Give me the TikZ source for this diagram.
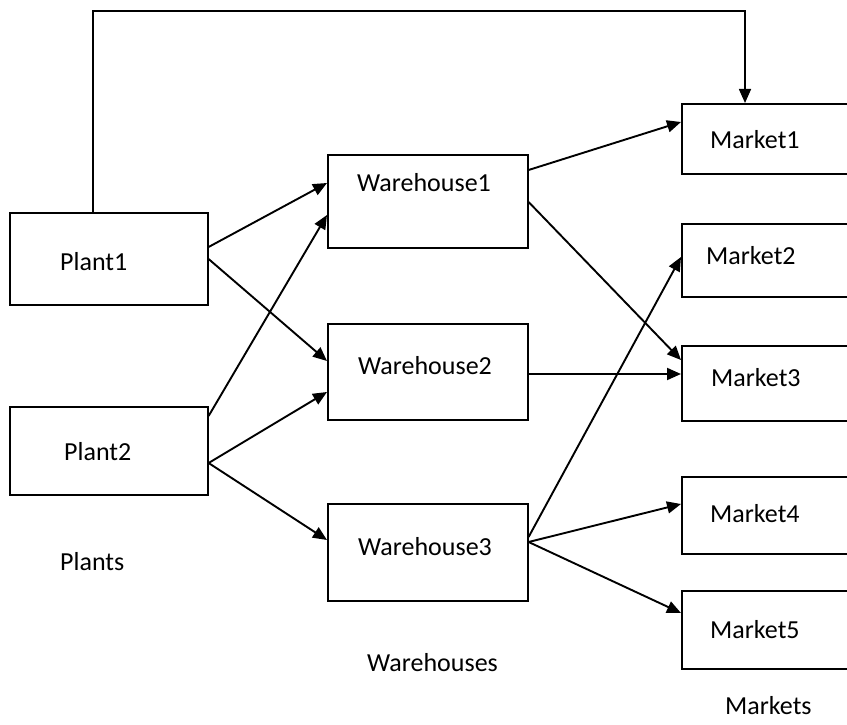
\documentclass[tikz,border=0pt]{standalone}
\usepackage{fontspec}
\setmainfont{Carlito}
\usepackage{tikz}
\usetikzlibrary{calc,arrows.meta}
\tikzset{
  ar/.style={-{Triangle[length=14pt,width=12pt]},line width=1.9pt,black},
  box/.style={draw=black,line width=1.6pt,rectangle,anchor=north west,inner sep=0pt},
  lbl/.style={anchor=west,inner sep=0pt,font=\fontsize{26}{30}\selectfont}
}
\begin{document}
\begin{tikzpicture}[x=1pt,y=-1pt]
\fill[white] (0,0) rectangle (847,725);
\useasboundingbox (0,0) rectangle (847,725);
% plants
\node[box,minimum width=198pt,minimum height=92pt] (p1) at (9,212) {};
\node[box,minimum width=198pt,minimum height=88pt] (p2) at (9,406) {};
\node[lbl] (p1t) at (60,262) {Plant1};
\node[lbl] (p2t) at (64,452) {Plant2};
\node[lbl] (plants) at (60,562) {Plants};
% warehouses
\node[box,minimum width=200pt,minimum height=93pt] (w1) at (327,154) {};
\node[box,minimum width=200pt,minimum height=96pt] (w2) at (327,323) {};
\node[box,minimum width=200pt,minimum height=97pt] (w3) at (327,503) {};
\node[lbl] (w1t) at (357,183) {Warehouse1};
\node[lbl] (w2t) at (358,366) {Warehouse2};
\node[lbl] (w3t) at (358,547) {Warehouse3};
\node[lbl] (whs) at (367,663) {Warehouses};
% markets
\node[box,minimum width=166pt,minimum height=70pt] (m1) at (681,103) {};
\node[box,minimum width=166pt,minimum height=73pt] (m2) at (681,223) {};
\node[box,minimum width=166pt,minimum height=75pt] (m3) at (681,345) {};
\node[box,minimum width=166pt,minimum height=77pt] (m4) at (681,476) {};
\node[box,minimum width=166pt,minimum height=78pt] (m5) at (681,590) {};
\node[lbl] (m1t) at (710,140) {Market1};
\node[lbl] (m2t) at (706,256) {Market2};
\node[lbl] (m3t) at (711,378) {Market3};
\node[lbl] (m4t) at (710,514) {Market4};
\node[lbl] (m5t) at (710,630) {Market5};
\node[lbl] (mks) at (725,706) {Markets};
% plants to warehouses
\draw[ar] ($(p1.north east)+(0,35)$) -- ($(w1.north west)+(0,29)$);
\draw[ar] ($(p1.north east)+(0,47)$) -- ($(w2.north west)+(0,38)$);
\draw[ar] ($(p2.north east)+(0,10)$) -- ($(w1.north west)+(0,61)$);
\draw[ar] ($(p2.north east)+(0,57)$) -- ($(w2.north west)+(0,69)$);
\draw[ar] ($(p2.north east)+(0,57)$) -- ($(w3.north west)+(0,37)$);
% warehouses to markets
\draw[ar] ($(w1.north east)+(0,16)$) -- ($(m1.north west)+(0,19)$);
\draw[ar] ($(w1.north east)+(0,48)$) -- ($(m3.north west)+(0,15)$);
\draw[ar] ($(w2.north east)+(0,51)$) -- ($(m3.north west)+(0,29)$);
\draw[ar] ($(w3.north east)+(0,34)$) -- ($(m2.north west)+(0,34)$);
\draw[ar] ($(w3.north east)+(0,39)$) -- ($(m4.north west)+(0,28)$);
\draw[ar] ($(w3.north east)+(0,39)$) -- ($(m5.north west)+(0,23)$);
% direct link plant1 to market1
\coordinate (p1top) at ($(p1.north west)+(84,0)$);
\coordinate (m1top) at ($(m1.north west)+(64,0)$);
\coordinate (topy) at (0,11);
\draw[ar,line width=1.6pt] (p1top) -- (p1top |- topy) -| (m1top);
\end{tikzpicture}
\end{document}
